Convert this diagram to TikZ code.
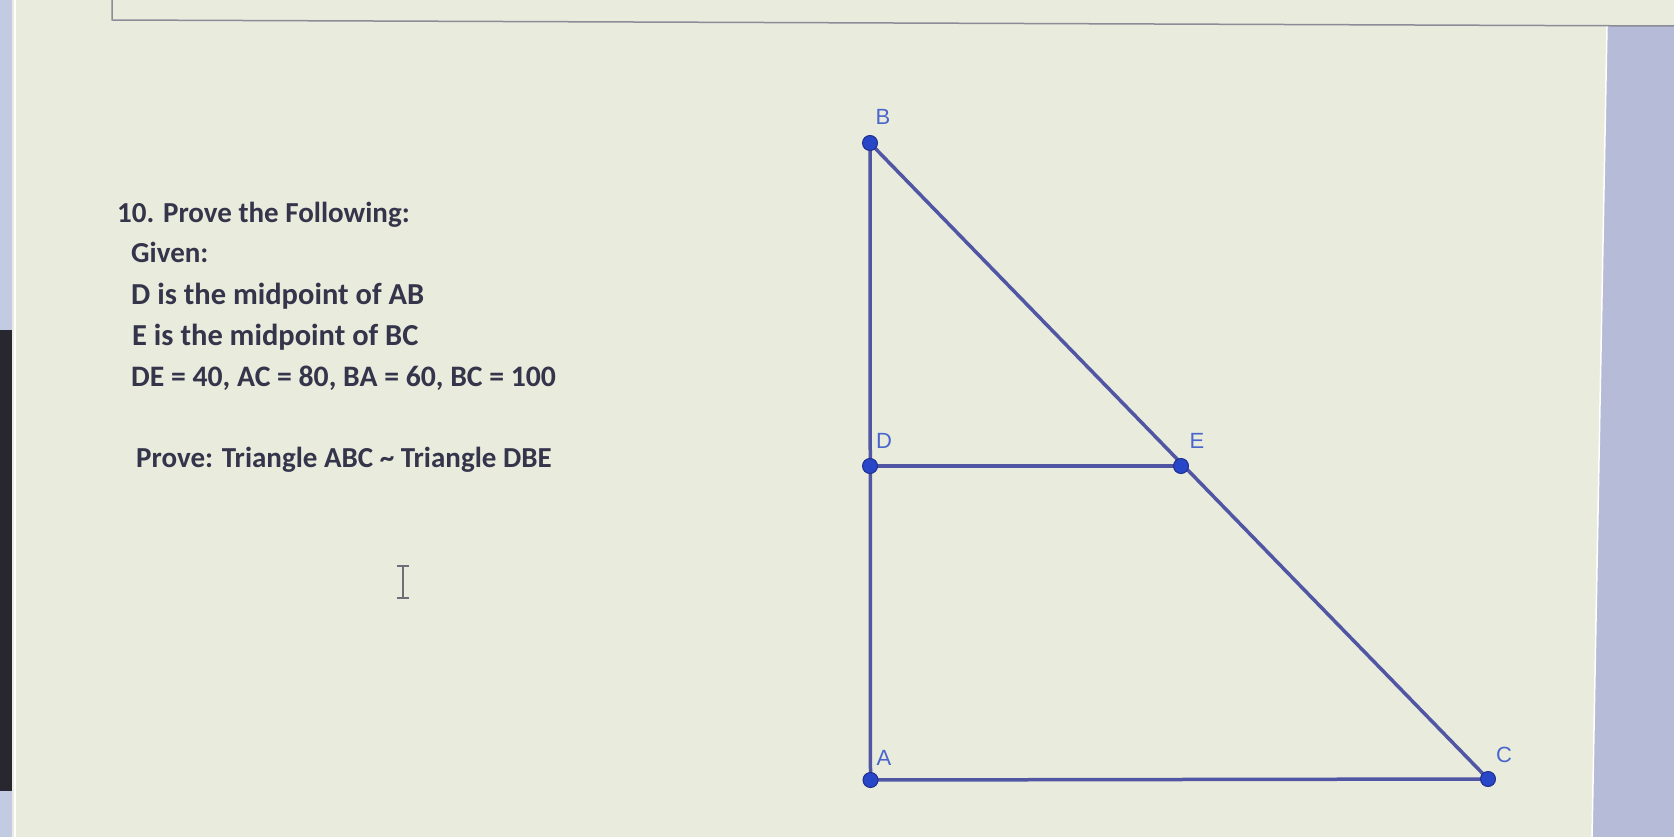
\documentclass[tikz,border=0pt]{standalone}
\usepackage{fontspec}
\setmainfont{Carlito}
\newfontfamily\labelfont{Liberation Sans}
\definecolor{pagebg}{HTML}{E9EBDD}
\definecolor{panel}{HTML}{B6BCD8}
\definecolor{txt}{HTML}{34344A}
\definecolor{seg}{HTML}{5156A4}
\definecolor{ptfill}{HTML}{2846C8}
\definecolor{ptdraw}{HTML}{1E2F8E}
\definecolor{lbl}{HTML}{4A66CC}
\definecolor{frame}{HTML}{8C8C98}
\definecolor{stripblue}{HTML}{C3CBE2}
\definecolor{stripdark}{HTML}{28262E}
\definecolor{cursorc}{HTML}{6E6E78}
\begin{document}
\begin{tikzpicture}[x=1pt,y=-1pt,
  body/.style={anchor=base west,inner sep=0pt,text=txt,font=\fontsize{29}{32}\selectfont\bfseries},
  bodywide/.style={body,font=\fontsize{30.5}{33}\selectfont\bfseries},
  pt/.style={circle,fill=ptfill,draw=ptdraw,line width=1pt,minimum size=15pt,inner sep=0pt},
  ptlabel/.style={text=lbl,inner sep=0pt,font=\labelfont\fontsize{22}{23}\selectfont},
  side/.style={draw=seg,line width=3.5pt}]
% background and screen frame
\fill[pagebg] (0,0) rectangle (1674,837);
\useasboundingbox (0,0) rectangle (1674,837);
\fill[panel] (1607,26) -- (1674,26) -- (1674,837) -- (1592,837) -- cycle;
\draw[white,line width=1.5pt] (1607,26) -- (1592,837);
\draw[frame,line width=1.5pt] (112,0) -- (112,20) -- (1674,26);
\fill[stripblue] (0,0) rectangle (12,837);
\fill[stripdark] (0,330) rectangle (12,791);
\draw[white,line width=2pt] (15,0) -- (15,837);
% text
\node[body] (t1) at (117,223) {10. Prove the Following:};
\node[body] (t2) at (131,263) {Given:};
\node[bodywide] (t3) at (131,304) {D is the midpoint of AB};
\node[bodywide] (t4) at (132,345) {E is the midpoint of BC};
\node[body,font=\fontsize{29.7}{32}\selectfont\bfseries] (t5) at (131,386) {DE = 40, AC = 80, BA = 60, BC = 100};
\node[body] (t6) at (136,467) {Prove: Triangle ABC \char"007E\ Triangle DBE};
% text cursor
\draw[cursorc,line width=1.5pt] (397,566) -- (409,566) (403,566) -- (403,598) (397,598) -- (409,598);
% triangle
\coordinate (Bc) at (870,143);
\coordinate (Dc) at (870,466);
\coordinate (Ec) at (1181,466);
\coordinate (Ac) at (870.5,780);
\coordinate (Cc) at (1488,779);
\draw[side] (Bc) -- (Ac) -- (Cc) -- cycle;
\draw[side] (Dc) -- (Ec);
\foreach \p in {B,D,E,A,C} {\node[pt] (\p) at (\p c) {};}
\node[ptlabel] (lB) at (883,117) {B};
\node[ptlabel] (lD) at (884,441) {D};
\node[ptlabel] (lE) at (1197,441) {E};
\node[ptlabel] (lA) at (884,758) {A};
\node[ptlabel] (lC) at (1504,755) {C};
\end{tikzpicture}
\end{document}
